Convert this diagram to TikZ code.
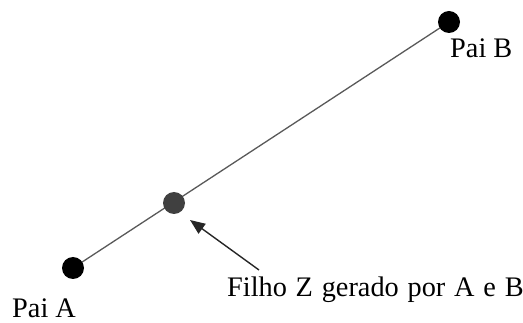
\documentclass[tikz,border=0pt]{standalone}
\usepackage{fontspec}
\setmainfont{Liberation Serif}
\usetikzlibrary{arrows.meta}
\begin{document}
\begin{tikzpicture}[x=1pt,y=-1pt,
  dot/.style={circle,fill=black,minimum size=22pt,inner sep=0pt},
  middot/.style={circle,fill=black!75,minimum size=22pt,inner sep=0pt},
  lbl/.style={anchor=base west,inner sep=0pt,font=\fontsize{28.3}{30}\selectfont},
  conn/.style={draw=black!65,line width=1.3pt},
  pointer/.style={draw=black!85,line width=1.4pt,-{Triangle[length=15pt,width=12pt]}}]
\useasboundingbox (0,0) rectangle (523,323);
\coordinate (a) at (73,268);
\coordinate (m) at (174,203);
\coordinate (b) at (449,22);
\draw[conn] (a) -- (b);
\node[dot] (pa) at (a) {};
\node[dot] (pb) at (b) {};
\node[middot] (z) at (m) {};
\coordinate (tail) at (259,270);
\coordinate (tip) at (190,220);
\draw[pointer] (tail) -- (tip);
\node[lbl] (la) at (12,318) {Pai A};
\node[lbl] (lb) at (450,58) {Pai B};
\node[lbl] (lz) at (227,297) {\spaceskip=8.8pt Filho Z gerado por A e B};
\end{tikzpicture}
\end{document}
